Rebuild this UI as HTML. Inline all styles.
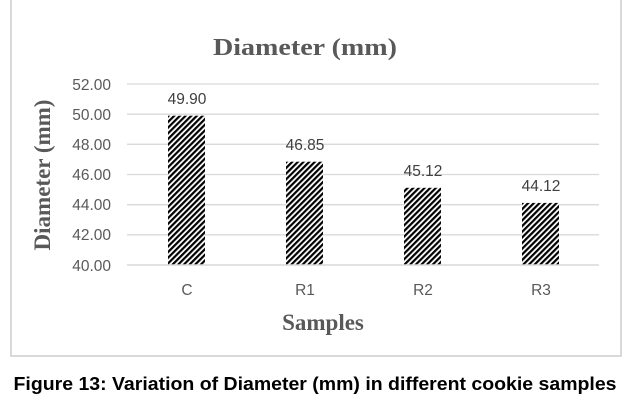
<!DOCTYPE html>
<html><head><style>
body{margin:0;background:#fff;width:629px;height:412px;overflow:hidden}
</style></head><body>
<svg width="629" height="412" xmlns="http://www.w3.org/2000/svg">
<defs>
<pattern id="h" width="4" height="4" patternUnits="userSpaceOnUse" patternTransform="rotate(45)">
<rect width="4" height="4" fill="#fff"/><rect width="2.2" height="4" fill="#000"/>
</pattern>
</defs>
<rect x="11" y="-2" width="610" height="358" fill="#fff" stroke="#d9d9d9" stroke-width="2"/>
<text x="305" y="55" text-anchor="middle" font-family="Liberation Serif,serif" font-weight="bold" font-size="24" fill="#595959" textLength="184" lengthAdjust="spacingAndGlyphs">Diameter (mm)</text>
<g stroke="#d9d9d9" stroke-width="1.3">
<line x1="127" x2="599" y1="84" y2="84"/><line x1="127" x2="599" y1="114.2" y2="114.2"/>
<line x1="127" x2="599" y1="144.3" y2="144.3"/><line x1="127" x2="599" y1="174.5" y2="174.5"/>
<line x1="127" x2="599" y1="204.7" y2="204.7"/><line x1="127" x2="599" y1="234.8" y2="234.8"/>
</g>
<g font-family="Liberation Sans,sans-serif" font-size="15.5" fill="#595959" text-anchor="end">
<text x="111" y="90">52.00</text><text x="111" y="120">50.00</text><text x="111" y="150">48.00</text>
<text x="111" y="180">46.00</text><text x="111" y="210">44.00</text><text x="111" y="240">42.00</text>
<text x="111" y="271">40.00</text>
</g>
<g fill="url(#h)">
<rect x="168" y="115.7" width="37" height="149.3"/>
<rect x="286" y="161.7" width="37" height="103.3"/>
<rect x="404" y="187.8" width="37" height="77.2"/>
<rect x="522" y="202.9" width="37" height="62.1"/>
</g>
<line x1="127" x2="599" y1="265" y2="265" stroke="#d9d9d9" stroke-width="1.5"/>
<g font-family="Liberation Sans,sans-serif" font-size="15.5" fill="#404040" text-anchor="middle">
<text x="187" y="104">49.90</text><text x="305" y="150">46.85</text>
<text x="423" y="176">45.12</text><text x="541" y="191">44.12</text>
</g>
<g font-family="Liberation Sans,sans-serif" font-size="15.5" fill="#595959" text-anchor="middle">
<text x="187" y="295">C</text><text x="305" y="295">R1</text><text x="423" y="295">R2</text><text x="541" y="295">R3</text>
</g>
<text x="323" y="330" text-anchor="middle" font-family="Liberation Serif,serif" font-weight="bold" font-size="23" fill="#595959">Samples</text>
<text transform="translate(50,175) rotate(-90)" text-anchor="middle" font-family="Liberation Serif,serif" font-weight="bold" font-size="23" fill="#595959">Diameter (mm)</text>
<text x="315" y="390" text-anchor="middle" font-family="Liberation Sans,sans-serif" font-weight="bold" font-size="18" fill="#000" textLength="603" lengthAdjust="spacingAndGlyphs">Figure 13: Variation of Diameter (mm) in different cookie samples</text>
</svg>
</body></html>
